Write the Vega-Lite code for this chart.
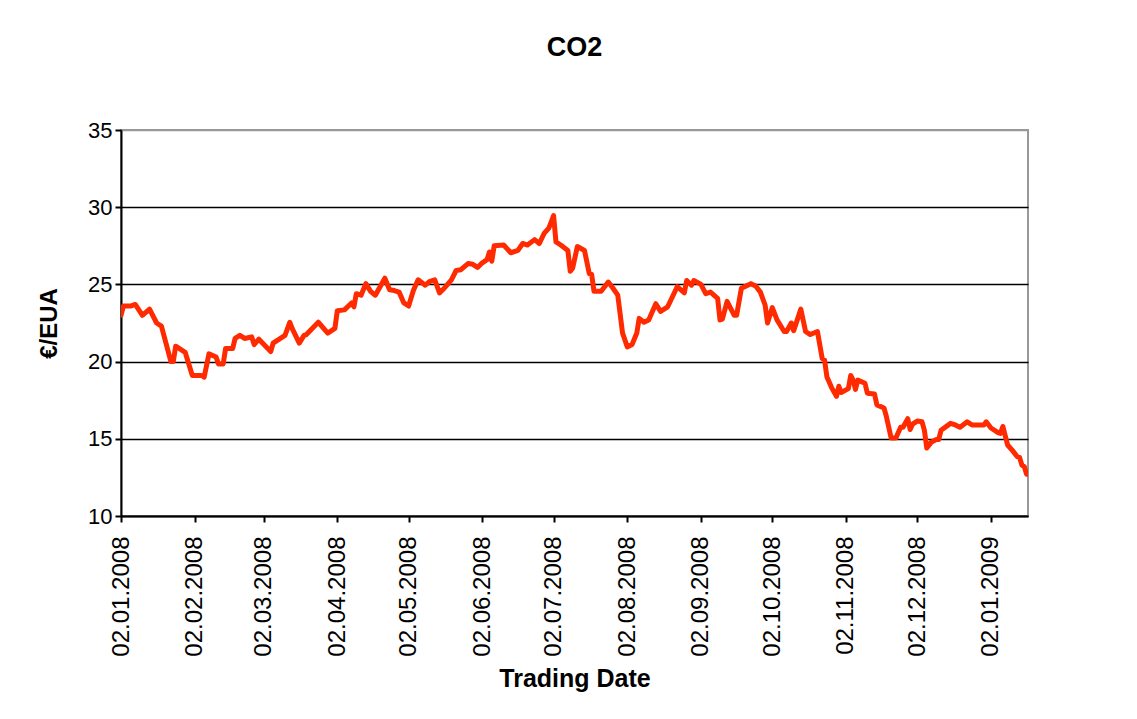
{
  "$schema": "https://vega.github.io/schema/vega-lite/v6.json",
  "width": 907,
  "height": 386,
  "autosize": {"type": "none"},
  "padding": {"left": 121, "top": 130, "right": 109, "bottom": 203},
  "background": "white",
  "title": {"text": "CO2", "font": "Liberation Sans", "fontSize": 27, "fontWeight": "bold", "color": "black", "anchor": "middle", "offset": 57},
  "config": {
    "view": {"stroke": "#999999", "strokeWidth": 2},
    "axis": {"labelFont": "Liberation Sans", "titleFont": "Liberation Sans", "labelColor": "black", "titleColor": "black", "domainColor": "black", "tickColor": "black", "domainWidth": 2, "tickWidth": 2, "tickSize": 6}
  },
  "data": {"values": [
    {"date": "2008-01-02", "price": 23.0},
    {"date": "2008-01-03", "price": 23.6},
    {"date": "2008-01-06", "price": 23.6},
    {"date": "2008-01-08", "price": 23.7},
    {"date": "2008-01-11", "price": 23.0},
    {"date": "2008-01-14", "price": 23.4},
    {"date": "2008-01-17", "price": 22.5},
    {"date": "2008-01-19", "price": 22.3},
    {"date": "2008-01-23", "price": 20.0},
    {"date": "2008-01-24", "price": 20.0},
    {"date": "2008-01-25", "price": 21.0},
    {"date": "2008-01-29", "price": 20.6},
    {"date": "2008-02-01", "price": 19.1},
    {"date": "2008-02-05", "price": 19.1},
    {"date": "2008-02-06", "price": 19.0},
    {"date": "2008-02-08", "price": 20.5},
    {"date": "2008-02-11", "price": 20.3},
    {"date": "2008-02-12", "price": 19.85},
    {"date": "2008-02-14", "price": 19.85},
    {"date": "2008-02-15", "price": 20.85},
    {"date": "2008-02-18", "price": 20.85},
    {"date": "2008-02-19", "price": 21.5},
    {"date": "2008-02-21", "price": 21.7},
    {"date": "2008-02-23", "price": 21.5},
    {"date": "2008-02-26", "price": 21.6},
    {"date": "2008-02-27", "price": 21.1},
    {"date": "2008-02-29", "price": 21.45},
    {"date": "2008-03-05", "price": 20.65},
    {"date": "2008-03-06", "price": 21.2},
    {"date": "2008-03-11", "price": 21.7},
    {"date": "2008-03-13", "price": 22.55},
    {"date": "2008-03-14", "price": 22.15},
    {"date": "2008-03-17", "price": 21.2},
    {"date": "2008-03-19", "price": 21.7},
    {"date": "2008-03-20", "price": 21.75},
    {"date": "2008-03-25", "price": 22.55},
    {"date": "2008-03-29", "price": 21.85},
    {"date": "2008-04-01", "price": 22.15},
    {"date": "2008-04-02", "price": 23.3},
    {"date": "2008-04-05", "price": 23.35},
    {"date": "2008-04-08", "price": 23.8},
    {"date": "2008-04-09", "price": 23.55},
    {"date": "2008-04-10", "price": 24.4},
    {"date": "2008-04-12", "price": 24.3},
    {"date": "2008-04-14", "price": 25.05},
    {"date": "2008-04-16", "price": 24.55},
    {"date": "2008-04-18", "price": 24.3},
    {"date": "2008-04-22", "price": 25.4},
    {"date": "2008-04-24", "price": 24.65},
    {"date": "2008-04-26", "price": 24.6},
    {"date": "2008-04-28", "price": 24.5},
    {"date": "2008-04-30", "price": 23.8},
    {"date": "2008-05-02", "price": 23.6},
    {"date": "2008-05-04", "price": 24.6},
    {"date": "2008-05-06", "price": 25.3},
    {"date": "2008-05-09", "price": 24.95},
    {"date": "2008-05-11", "price": 25.2},
    {"date": "2008-05-13", "price": 25.3},
    {"date": "2008-05-15", "price": 24.45},
    {"date": "2008-05-17", "price": 24.75},
    {"date": "2008-05-20", "price": 25.3},
    {"date": "2008-05-22", "price": 25.9},
    {"date": "2008-05-24", "price": 25.95},
    {"date": "2008-05-27", "price": 26.35},
    {"date": "2008-05-29", "price": 26.3},
    {"date": "2008-05-31", "price": 26.1},
    {"date": "2008-06-02", "price": 26.4},
    {"date": "2008-06-04", "price": 26.6},
    {"date": "2008-06-05", "price": 27.1},
    {"date": "2008-06-06", "price": 26.5},
    {"date": "2008-06-07", "price": 27.5},
    {"date": "2008-06-11", "price": 27.55},
    {"date": "2008-06-14", "price": 27.05},
    {"date": "2008-06-17", "price": 27.2},
    {"date": "2008-06-19", "price": 27.65},
    {"date": "2008-06-21", "price": 27.55},
    {"date": "2008-06-24", "price": 27.9},
    {"date": "2008-06-26", "price": 27.65},
    {"date": "2008-06-28", "price": 28.3},
    {"date": "2008-06-30", "price": 28.65},
    {"date": "2008-07-02", "price": 29.45},
    {"date": "2008-07-03", "price": 27.75},
    {"date": "2008-07-05", "price": 27.55},
    {"date": "2008-07-08", "price": 27.2},
    {"date": "2008-07-09", "price": 25.85},
    {"date": "2008-07-10", "price": 26.05},
    {"date": "2008-07-12", "price": 27.45},
    {"date": "2008-07-15", "price": 27.2},
    {"date": "2008-07-17", "price": 25.7},
    {"date": "2008-07-18", "price": 25.65},
    {"date": "2008-07-19", "price": 24.55},
    {"date": "2008-07-22", "price": 24.55},
    {"date": "2008-07-25", "price": 25.15},
    {"date": "2008-07-27", "price": 24.75},
    {"date": "2008-07-29", "price": 24.3},
    {"date": "2008-07-31", "price": 21.85},
    {"date": "2008-08-02", "price": 20.95},
    {"date": "2008-08-04", "price": 21.1},
    {"date": "2008-08-06", "price": 21.85},
    {"date": "2008-08-07", "price": 22.8},
    {"date": "2008-08-09", "price": 22.55},
    {"date": "2008-08-11", "price": 22.7},
    {"date": "2008-08-14", "price": 23.75},
    {"date": "2008-08-16", "price": 23.25},
    {"date": "2008-08-19", "price": 23.55},
    {"date": "2008-08-21", "price": 24.2},
    {"date": "2008-08-23", "price": 24.85},
    {"date": "2008-08-26", "price": 24.45},
    {"date": "2008-08-27", "price": 25.25},
    {"date": "2008-08-29", "price": 24.95},
    {"date": "2008-08-30", "price": 25.25},
    {"date": "2008-09-02", "price": 25.0},
    {"date": "2008-09-04", "price": 24.4},
    {"date": "2008-09-06", "price": 24.5},
    {"date": "2008-09-09", "price": 24.1},
    {"date": "2008-09-10", "price": 22.7},
    {"date": "2008-09-11", "price": 22.75},
    {"date": "2008-09-13", "price": 23.9},
    {"date": "2008-09-16", "price": 23.0},
    {"date": "2008-09-17", "price": 23.0},
    {"date": "2008-09-19", "price": 24.75},
    {"date": "2008-09-23", "price": 25.05},
    {"date": "2008-09-25", "price": 24.9},
    {"date": "2008-09-27", "price": 24.5},
    {"date": "2008-09-29", "price": 23.65},
    {"date": "2008-09-30", "price": 22.5},
    {"date": "2008-10-02", "price": 23.5},
    {"date": "2008-10-04", "price": 22.7},
    {"date": "2008-10-07", "price": 21.95},
    {"date": "2008-10-08", "price": 21.95},
    {"date": "2008-10-10", "price": 22.5},
    {"date": "2008-10-11", "price": 22.0},
    {"date": "2008-10-14", "price": 23.4},
    {"date": "2008-10-16", "price": 21.95},
    {"date": "2008-10-18", "price": 21.75},
    {"date": "2008-10-21", "price": 21.95},
    {"date": "2008-10-23", "price": 20.2},
    {"date": "2008-10-24", "price": 20.1},
    {"date": "2008-10-25", "price": 19.0},
    {"date": "2008-10-27", "price": 18.3},
    {"date": "2008-10-29", "price": 17.75},
    {"date": "2008-10-30", "price": 18.4},
    {"date": "2008-10-31", "price": 18.0},
    {"date": "2008-11-03", "price": 18.25},
    {"date": "2008-11-04", "price": 19.1},
    {"date": "2008-11-05", "price": 18.8},
    {"date": "2008-11-06", "price": 18.2},
    {"date": "2008-11-07", "price": 18.8},
    {"date": "2008-11-10", "price": 18.6},
    {"date": "2008-11-11", "price": 17.95},
    {"date": "2008-11-14", "price": 17.9},
    {"date": "2008-11-15", "price": 17.2},
    {"date": "2008-11-18", "price": 17.0},
    {"date": "2008-11-19", "price": 16.45},
    {"date": "2008-11-21", "price": 15.05},
    {"date": "2008-11-23", "price": 15.05},
    {"date": "2008-11-25", "price": 15.75},
    {"date": "2008-11-26", "price": 15.75},
    {"date": "2008-11-28", "price": 16.3},
    {"date": "2008-11-29", "price": 15.6},
    {"date": "2008-11-30", "price": 15.95},
    {"date": "2008-12-02", "price": 16.15},
    {"date": "2008-12-04", "price": 16.1},
    {"date": "2008-12-05", "price": 15.55},
    {"date": "2008-12-06", "price": 14.4},
    {"date": "2008-12-08", "price": 14.8},
    {"date": "2008-12-10", "price": 14.95},
    {"date": "2008-12-11", "price": 14.95},
    {"date": "2008-12-12", "price": 15.55},
    {"date": "2008-12-16", "price": 16.0},
    {"date": "2008-12-18", "price": 15.9},
    {"date": "2008-12-20", "price": 15.75},
    {"date": "2008-12-23", "price": 16.1},
    {"date": "2008-12-25", "price": 15.9},
    {"date": "2008-12-28", "price": 15.9},
    {"date": "2008-12-30", "price": 15.9},
    {"date": "2008-12-31", "price": 16.1},
    {"date": "2009-01-02", "price": 15.7},
    {"date": "2009-01-05", "price": 15.4},
    {"date": "2009-01-06", "price": 15.35},
    {"date": "2009-01-07", "price": 15.8},
    {"date": "2009-01-09", "price": 14.6},
    {"date": "2009-01-11", "price": 14.25},
    {"date": "2009-01-13", "price": 13.85},
    {"date": "2009-01-14", "price": 13.8},
    {"date": "2009-01-15", "price": 13.3},
    {"date": "2009-01-16", "price": 13.2},
    {"date": "2009-01-17", "price": 12.7}
  ]},
  "mark": {"type": "line", "color": "#FF2A00", "strokeWidth": 5, "strokeJoin": "round", "strokeCap": "round", "clip": true},
  "encoding": {
    "x": {
      "field": "date", "type": "temporal",
      "scale": {"type": "utc", "domain": [{"year": 2008, "month": 1, "date": 2, "utc": true}, {"year": 2009, "month": 1, "date": 17, "hours": 14, "utc": true}]},
      "axis": {
        "title": "Trading Date", "titleFontSize": 25, "titleFontWeight": "bold", "titlePadding": 10,
        "format": "%d.%m.%Y", "labelAngle": -90, "labelFontSize": 24, "labelPadding": 14, "labelOverlap": false, "labelFlush": false,
        "grid": false,
        "values": [
          {"year": 2008, "month": 1, "date": 2, "utc": true},
          {"year": 2008, "month": 2, "date": 2, "utc": true},
          {"year": 2008, "month": 3, "date": 2, "utc": true},
          {"year": 2008, "month": 4, "date": 2, "utc": true},
          {"year": 2008, "month": 5, "date": 2, "utc": true},
          {"year": 2008, "month": 6, "date": 2, "utc": true},
          {"year": 2008, "month": 7, "date": 2, "utc": true},
          {"year": 2008, "month": 8, "date": 2, "utc": true},
          {"year": 2008, "month": 9, "date": 2, "utc": true},
          {"year": 2008, "month": 10, "date": 2, "utc": true},
          {"year": 2008, "month": 11, "date": 2, "utc": true},
          {"year": 2008, "month": 12, "date": 2, "utc": true},
          {"year": 2009, "month": 1, "date": 2, "utc": true}
        ]
      }
    },
    "y": {
      "field": "price", "type": "quantitative",
      "scale": {"domain": [10, 35], "nice": false, "zero": false},
      "axis": {
        "title": "€/EUA", "titleFontSize": 24, "titleFontWeight": "bold", "titlePadding": 26,
        "values": [10, 15, 20, 25, 30, 35], "labelFontSize": 22, "labelPadding": 3,
        "grid": true, "gridWidth": 1.5, "gridOpacity": 1,
        "gridColor": {"condition": {"test": "datum.value == 35", "value": "#999999"}, "value": "black"}
      }
    }
  }
}
